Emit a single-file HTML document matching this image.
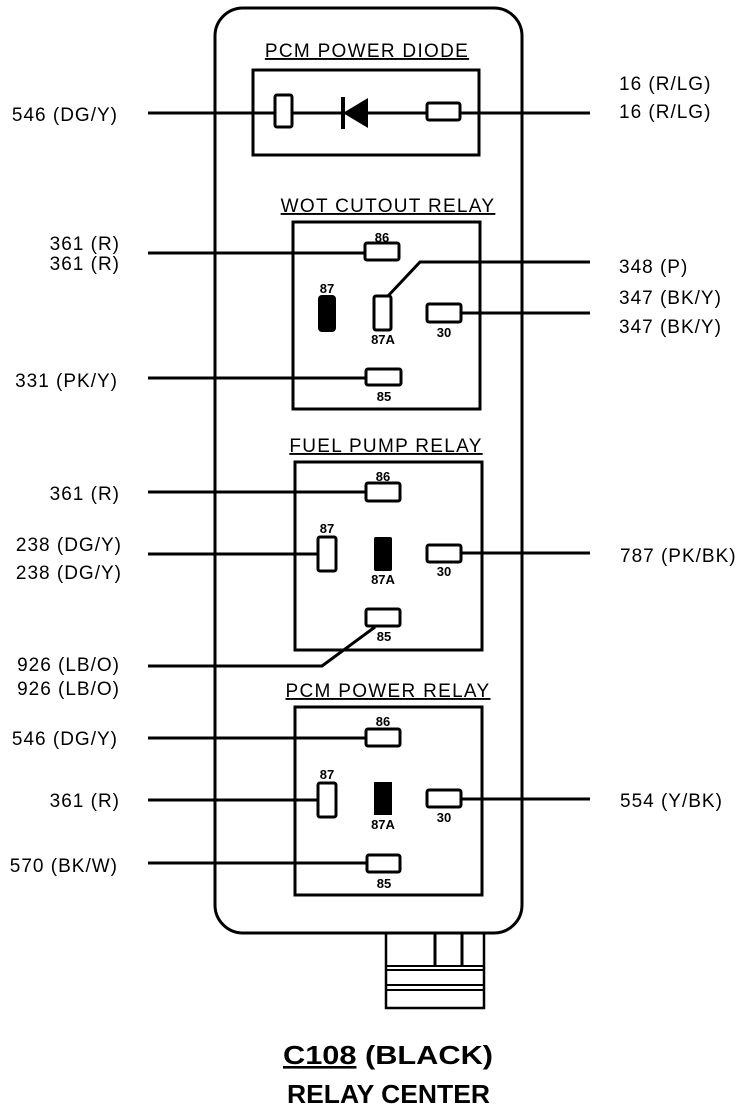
<!DOCTYPE html>
<html><head><meta charset="utf-8"><style>
html,body{margin:0;padding:0;background:#fff;}
svg{display:block;}
text{font-family:"Liberation Sans",Arial,sans-serif;fill:#000;}
.lbl{font-size:19px;letter-spacing:1px;}
.pin{font-size:13px;font-weight:bold;}
.ttl{font-size:19px;text-decoration:underline;letter-spacing:1.3px;}
</style></head><body>
<svg width="752" height="1110" viewBox="0 0 752 1110" xmlns="http://www.w3.org/2000/svg">
<g fill="none" stroke="#000" stroke-width="3">
<rect x="215" y="8" width="307" height="925" rx="28" ry="28"/>
<rect x="386" y="933" width="98" height="75" stroke-width="2.5"/>
<line x1="435" y1="933" x2="435" y2="966"/>
<line x1="462" y1="933" x2="462" y2="966"/>
<line x1="386" y1="966" x2="484" y2="966" stroke-width="2"/>
<line x1="386" y1="970" x2="484" y2="970" stroke-width="2"/>
<line x1="386" y1="985" x2="484" y2="985" stroke-width="2"/>
<line x1="386" y1="990" x2="484" y2="990" stroke-width="2"/>
<rect x="253" y="70" width="226" height="85"/>
<rect x="293" y="222" width="187" height="187"/>
<rect x="295" y="462" width="187" height="188"/>
<rect x="295" y="707" width="187" height="188"/>
<line x1="148" y1="113" x2="590" y2="113"/>
<line x1="148" y1="253" x2="365" y2="253"/>
<polyline points="388,296 420,262 590,262"/>
<line x1="461" y1="313" x2="590" y2="313"/>
<line x1="148" y1="378" x2="366" y2="378"/>
<line x1="148" y1="492" x2="366" y2="492"/>
<line x1="148" y1="554" x2="318" y2="554"/>
<line x1="461" y1="553" x2="590" y2="553"/>
<polyline points="375,627 322,666 148,666"/>
<line x1="148" y1="738" x2="366" y2="738"/>
<line x1="148" y1="800" x2="318" y2="800"/>
<line x1="461" y1="799" x2="590" y2="799"/>
<line x1="148" y1="863" x2="367" y2="863"/>
</g>
<g fill="#fff" stroke="#000" stroke-width="3">
<rect x="275" y="95" width="17" height="32" rx="2"/>
<rect x="427" y="103" width="33" height="17" rx="2"/>
<rect x="365" y="243" width="34" height="17" rx="2"/>
<rect x="374" y="296" width="17" height="34" rx="2"/>
<rect x="427" y="304" width="34" height="18" rx="2"/>
<rect x="366" y="369" width="35" height="16" rx="2"/>
<rect x="366" y="483" width="34" height="18" rx="2"/>
<rect x="318" y="537" width="18" height="34" rx="2"/>
<rect x="427" y="545" width="34" height="17" rx="2"/>
<rect x="366" y="609" width="34" height="17" rx="2"/>
<rect x="366" y="729" width="34" height="17" rx="2"/>
<rect x="318" y="783" width="18" height="34" rx="2"/>
<rect x="427" y="790" width="34" height="17" rx="2"/>
<rect x="367" y="855" width="33" height="17" rx="2"/>
</g>
<g fill="#000">
<polygon points="343,113 368,98 368,128"/>
<rect x="341" y="97" width="4" height="32"/>
<rect x="318" y="295" width="18" height="37" rx="4"/>
<rect x="374" y="537" width="18" height="34" rx="2"/>
<rect x="374" y="782" width="18" height="33"/>
</g>
<text class="ttl" x="367" y="57" text-anchor="middle">PCM POWER DIODE</text>
<text class="ttl" x="388" y="212" text-anchor="middle">WOT CUTOUT RELAY</text>
<text class="ttl" x="386" y="452" text-anchor="middle">FUEL PUMP RELAY</text>
<text class="ttl" x="388" y="697" text-anchor="middle">PCM POWER RELAY</text>
<g class="pin" text-anchor="middle">
<text x="382" y="242">86</text>
<text x="327" y="293">87</text>
<text x="383" y="344">87A</text>
<text x="444" y="337">30</text>
<text x="384" y="401">85</text>
<text x="383" y="481">86</text>
<text x="327" y="533">87</text>
<text x="383" y="584">87A</text>
<text x="444" y="576">30</text>
<text x="384" y="641">85</text>
<text x="383" y="726">86</text>
<text x="327" y="779">87</text>
<text x="383" y="829">87A</text>
<text x="444" y="822">30</text>
<text x="384" y="888">85</text>
</g>
<g class="lbl" text-anchor="end">
<text x="118" y="121">546 (DG/Y)</text>
<text x="120" y="250">361 (R)</text>
<text x="120" y="270">361 (R)</text>
<text x="118" y="387">331 (PK/Y)</text>
<text x="120" y="500">361 (R)</text>
<text x="122" y="551">238 (DG/Y)</text>
<text x="122" y="579">238 (DG/Y)</text>
<text x="120" y="671">926 (LB/O)</text>
<text x="120" y="695">926 (LB/O)</text>
<text x="118" y="745">546 (DG/Y)</text>
<text x="120" y="807">361 (R)</text>
<text x="118" y="872">570 (BK/W)</text>
</g>
<g class="lbl">
<text x="619" y="90">16 (R/LG)</text>
<text x="619" y="118">16 (R/LG)</text>
<text x="619" y="273">348 (P)</text>
<text x="619" y="304">347 (BK/Y)</text>
<text x="619" y="333">347 (BK/Y)</text>
<text x="620" y="562">787 (PK/BK)</text>
<text x="620" y="807">554 (Y/BK)</text>
</g>
<text x="283" y="1064" textLength="210" lengthAdjust="spacingAndGlyphs" style="font-size:26px;font-weight:bold"><tspan text-decoration="underline">C108</tspan> (BLACK)</text>
<text x="287" y="1103" textLength="203" lengthAdjust="spacingAndGlyphs" style="font-size:26px;font-weight:bold">RELAY CENTER</text>
</svg>
</body></html>
